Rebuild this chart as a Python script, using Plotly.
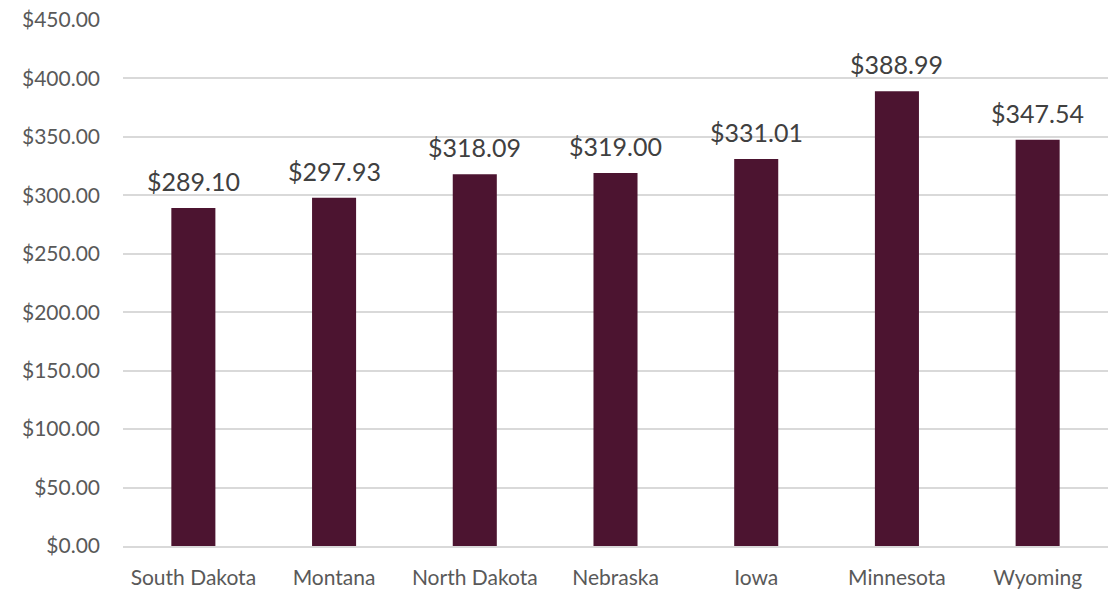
import plotly.graph_objects as go

states = ["South Dakota", "Montana", "North Dakota", "Nebraska", "Iowa", "Minnesota", "Wyoming"]
values = [289.10, 297.93, 318.09, 319.00, 331.01, 388.99, 347.54]
tick_vals = [0, 50, 100, 150, 200, 250, 300, 350, 400, 450]
tick_text = ["$%.2f" % v for v in tick_vals]
labels = ["$%.2f" % v for v in values]

fig = go.Figure(go.Bar(
    x=states, y=values,
    marker=dict(color="#4C1430", line=dict(width=0)),
    hoverinfo="x+y",
))
for s, v, t in zip(states, values, labels):
    fig.add_annotation(x=s, y=v, text=t, showarrow=False, yanchor="bottom",
                       yshift=10, font=dict(size=25, color="#404040", family="Lato"))

fig.update_layout(
    width=1119, height=590,
    margin=dict(l=123, r=11, t=19.5, b=43.5),
    paper_bgcolor="white", plot_bgcolor="white",
    bargap=0.687,
    showlegend=False,
    font=dict(family="Lato", color="#595959", size=21),
)
fig.update_yaxes(range=[0, 450], tickvals=tick_vals, ticktext=tick_text,
                 showgrid=True, gridcolor="#d9d9d9", gridwidth=1.5, automargin=False,
                 zeroline=False, showline=False, ticks="", ticklabelstandoff=22,
                 ticklabeloverflow="allow",
                 tickfont=dict(size=21, color="#595959"))
fig.update_xaxes(showgrid=False, showline=True, linecolor="#d9d9d9", linewidth=1.5,
                 automargin=False, ticklabeloverflow="allow",
                 ticks="", ticklabelstandoff=12, tickfont=dict(size=21, color="#595959"))
fig.write_html("out.html", config={"displayModeBar": False},
               post_script="document.body.style.margin='0px';document.body.style.overflow='hidden';")
